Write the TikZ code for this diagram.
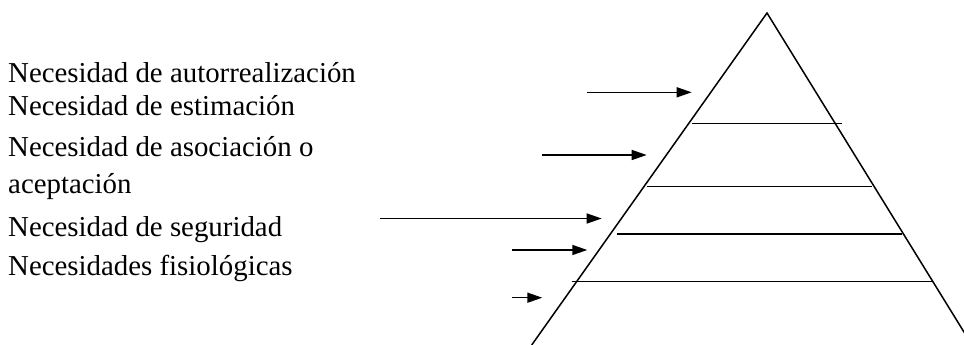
\documentclass[tikz,border=0pt]{standalone}
\usepackage{fontspec}
\setmainfont{Liberation Serif}
\usetikzlibrary{arrows.meta}
\begin{document}
\begin{tikzpicture}[x=1pt,y=-1pt,
  lbl/.style={anchor=base west,inner sep=0pt,font=\fontsize{28.85}{30}\selectfont},
  edge/.style={line width=1.5pt,line cap=butt},
  pointer/.style={line width=1.5pt,-{Triangle[length=15pt,width=10pt]}}]
\useasboundingbox (0,0) rectangle (964,345);
\fill[white] (0,0) rectangle (964,345);
% labels
\node[lbl] (t1) at (8,83) {Necesidad de autorrealización};
\node[lbl] (t2) at (8,115) {Necesidad de estimación};
\node[lbl] (t3) at (8,156) {Necesidad de asociación o};
\node[lbl] (t4) at (8,193) {aceptación};
\node[lbl] (t5) at (8,236) {Necesidad de seguridad};
\node[lbl] (t6) at (8,275) {Necesidades fisiológicas};
% pyramid
\coordinate (apex) at (767,13);
\coordinate (bl) at (531.7,345);
\coordinate (br) at (972,345);
\begin{scope}
\clip (0,0) rectangle (964,345);
\draw[edge] (bl) -- (apex) -- (br);
\end{scope}
\coordinate (l1a) at (691.7,123.3); \coordinate (l1b) at (841.7,123.3);
\coordinate (l2a) at (646.7,186.7); \coordinate (l2b) at (871.7,186.7);
\coordinate (l3a) at (616.7,234);   \coordinate (l3b) at (901.7,234);
\coordinate (l4a) at (571.7,281.7); \coordinate (l4b) at (931.7,281.7);
\draw[edge] (l1a) -- (l1b);
\draw[edge] (l2a) -- (l2b);
\draw[edge] (l3a) -- (l3b);
\draw[edge] (l4a) -- (l4b);
% arrows
\coordinate (a1s) at (586.7,92.3);  \coordinate (a1e) at (691.7,92.3);
\coordinate (a2s) at (542.3,155);   \coordinate (a2e) at (646.7,155);
\coordinate (a3s) at (380,218.5);   \coordinate (a3e) at (601.7,218.5);
\coordinate (a4s) at (512.3,250);   \coordinate (a4e) at (587.3,250);
\coordinate (a5s) at (512.3,297.7); \coordinate (a5e) at (542.3,297.7);
\draw[pointer] (a1s) -- (a1e);
\draw[pointer] (a2s) -- (a2e);
\draw[pointer] (a3s) -- (a3e);
\draw[pointer] (a4s) -- (a4e);
\draw[pointer] (a5s) -- (a5e);
\end{tikzpicture}
\end{document}
